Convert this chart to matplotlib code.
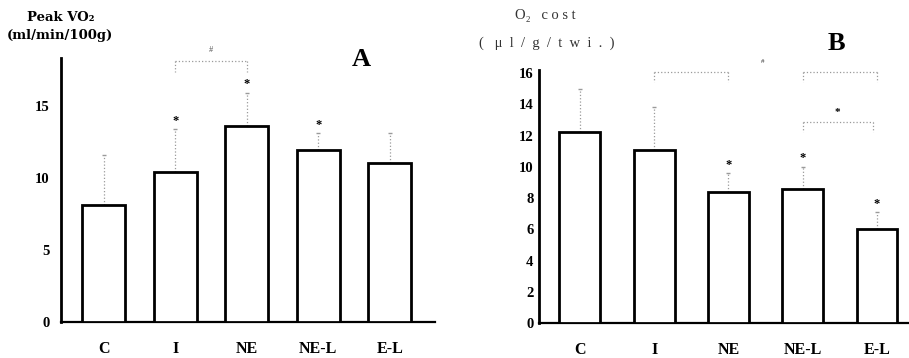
import matplotlib
matplotlib.use("Agg")
import matplotlib.pyplot as plt

plt.rcParams['font.family'] = ['Liberation Serif', 'DejaVu Serif']

groups = ['C', 'I', 'NE', 'NE-L', 'E-L']
# A: peak VO2 (ml/min/100g), mean and SD
peak_vo2 = [8.1, 10.4, 13.6, 11.9, 11.0]
peak_vo2_sd = [3.5, 3.0, 2.3, 1.2, 2.1]
peak_vo2_star = [False, True, True, True, False]
# B: O2 cost (ul/g/twitch), mean and SD
o2_cost = [12.2, 11.1, 8.4, 8.6, 6.0]
o2_cost_sd = [2.8, 2.7, 1.2, 1.4, 1.1]
o2_cost_star = [False, False, True, True, True]

gray = '#9a9a9a'


def bar_panel(ax, vals, sds, stars, width):
    x = range(len(groups))
    ax.bar(x, vals, width=width, color='white', edgecolor='black', linewidth=2.0, zorder=3)
    eb = ax.errorbar(x, vals, yerr=[[0] * len(sds), sds], fmt='none', ecolor=gray,
                     elinewidth=0.9, capsize=1.5, zorder=2)
    eb[2][0].set_linestyle(':')
    for i, (v, s, st) in enumerate(zip(vals, sds, stars)):
        if st:
            ax.text(i, v + s + 0.15, '*', ha='center', va='bottom', fontsize=9,
                    fontweight='bold')
    for sp in ['top', 'right']:
        ax.spines[sp].set_visible(False)
    ax.spines['left'].set_linewidth(2.0)
    ax.spines['bottom'].set_linewidth(1.6)
    ax.set_xticks(list(x))
    ax.set_xticklabels(groups, fontsize=11.5, fontweight='bold')
    ax.tick_params(axis='x', length=0, pad=14)
    ax.tick_params(axis='y', length=0, labelsize=10.5)


def bracket(ax, x0, x1, y, drop, legs=None):
    kw = dict(color=gray, lw=0.9, ls=':', clip_on=False, zorder=1)
    ax.plot([x0, x1], [y, y], **kw)
    for xx in (legs if legs is not None else [x0, x1]):
        ax.plot([xx, xx], [y, y - drop], **kw)


fig = plt.figure(figsize=(9.09, 3.58), dpi=100)

# panel A
axA = fig.add_axes([0.0671, 0.1006, 0.4114, 0.7374])
bar_panel(axA, peak_vo2, peak_vo2_sd, peak_vo2_star, 0.6)
axA.set_xlim(-0.60, 4.63)
axA.set_ylim(0, 18.3)
axA.set_yticks([0, 5, 10, 15])
for t in axA.get_yticklabels():
    t.set_fontweight('bold')
axA.tick_params(axis='y', pad=8)
bracket(axA, 1, 2, 18.1, 0.8)
axA.text(1.5, 18.6, '#', ha='center', va='bottom', fontsize=6, color='#555555')
axA.text(3.6, 18.2, 'A', ha='center', va='center', fontsize=19, fontweight='bold')
fig.text(0.067, 0.95, 'Peak VO₂', ha='center', va='center', fontsize=9.5,
         fontweight='bold', family='DejaVu Serif')
fig.text(0.066, 0.90, '(ml/min/100g)', ha='center', va='center', fontsize=9.5,
         fontweight='bold', family='DejaVu Serif')

# panel B
axB = fig.add_axes([0.593, 0.0978, 0.407, 0.7067])
bar_panel(axB, o2_cost, o2_cost_sd, o2_cost_star, 0.55)
axB.set_xlim(-0.55, 4.43)
axB.set_ylim(0, 16.2)
axB.set_yticks(range(0, 17, 2))
for t in axB.get_yticklabels():
    t.set_fontweight('bold')
axB.tick_params(axis='y', pad=4)
bracket(axB, 1, 2, 16.1, 0.7)
bracket(axB, 3, 4, 16.1, 0.7)
axB.text(2.46, 16.6, '#', ha='center', va='bottom', fontsize=5, color='#333333')
bracket(axB, 3, 3.95, 12.9, 0.7)
axB.text(3.46, 13.2, '*', ha='center', va='bottom', fontsize=8, fontweight='bold')
axB.text(3.45, 17.9, 'B', ha='center', va='center', fontsize=19, fontweight='bold')
fig.text(0.600, 0.958, 'O₂   c o s t', ha='center', va='center', fontsize=10.5,
         color='#333333')
fig.text(0.601, 0.88, '(   μ  l  /  g  /  t  w  i  .  )', ha='center', va='center',
         fontsize=10.5, color='#333333')

fig.savefig('out.png', dpi=100)
